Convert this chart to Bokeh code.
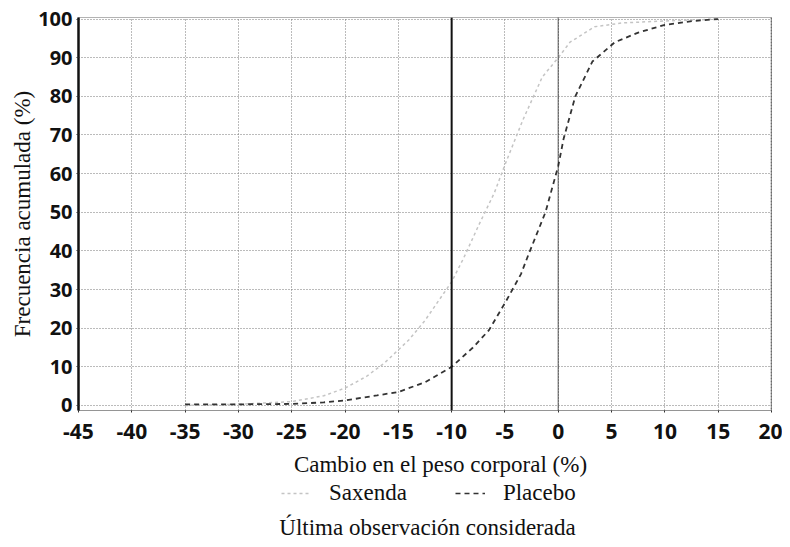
from bokeh.plotting import figure
from bokeh.layouts import column
from bokeh.models import (Range1d, FixedTicker, Span, Legend, LegendItem, Label, Title,
                          PrintfTickFormatter)
from bokeh.embed import file_html
from bokeh.resources import INLINE

# Data
saxenda_x = [-35, -30, -25, -22, -20, -18, -16.3, -14, -12.5, -10, -8.9, -7.4, -6, -4.9, -3.3, -1.5, 0, 1.1, 3.4, 6, 10, 15]
saxenda_y = [0, 0.3, 1, 2.5, 4.5, 7.5, 11, 17, 22, 32, 38, 47, 55, 63, 74, 85, 90, 94, 98, 99, 99.5, 100]

placebo_x = [-35, -30, -25, -22, -20, -17, -15, -12.5, -10, -8, -6.5, -4.9, -3.5, -2.8, -1.2, 0, 0.5, 1.6, 3.2, 5.3, 7.5, 10, 12.7, 15]
placebo_y = [0.3, 0.3, 0.4, 0.8, 1.3, 2.6, 3.5, 6, 10, 15, 19.5, 27, 34, 39, 50, 62, 69, 80, 89, 94, 96.5, 98.5, 99.5, 100]

x_ticks = [-45, -40, -35, -30, -25, -20, -15, -10, -5, 0, 5, 10, 15, 20]
y_ticks = [0, 10, 20, 30, 40, 50, 60, 70, 80, 90, 100]

x_title = "Cambio en el peso corporal (%)"
y_title = "Frecuencia acumulada (%)"
subtitle = "Última observación considerada"
series_names = ["Saxenda", "Placebo"]

SAX_COLOR, SAX_DASH = "#c4c4c4", "3 3"
PLA_COLOR, PLA_DASH = "#333333", "5 4"
SERIF = "Liberation Serif"

p = figure(width=782, height=449, output_backend="svg", toolbar_location=None,
           x_range=Range1d(-45, 20), y_range=Range1d(-1.3, 100.4),
           min_border_left=78, min_border_right=11, min_border_top=17, min_border_bottom=39)
p.background_fill_color = "white"
p.border_fill_color = "white"
p.outline_line_color = "#666666"
p.outline_line_dash = "1 1"
p.outline_line_width = 1

for ax in (p.xaxis[0], p.yaxis[0]):
    ax.major_label_text_font = "Open Sans"
    ax.major_label_text_font_style = "bold"
    ax.major_label_text_color = "#111111"
    ax.minor_tick_line_color = None
    ax.major_tick_in = 0
    ax.major_tick_out = 2
    ax.major_tick_line_color = "#333333"
    ax.formatter = PrintfTickFormatter(format="%d")

p.xaxis.major_label_text_font_size = "21px"
p.yaxis.major_label_text_font_size = "20px"
p.xaxis.ticker = FixedTicker(ticks=x_ticks)
p.yaxis.ticker = FixedTicker(ticks=y_ticks)
p.xaxis.axis_line_color = "#777777"
p.xaxis.axis_line_dash = "1 1"
p.yaxis.axis_line_color = "#111111"
p.yaxis.axis_line_width = 2.5
p.xaxis.major_label_standoff = 11
p.yaxis.major_label_standoff = 4

# y title, shifted a little below the frame's middle as in the reference
p.add_layout(Title(text=y_title, align="center", offset=17, standoff=2,
                   text_font=SERIF, text_font_size="23px", text_font_style="normal",
                   text_color="#111111"), "left")

p.xgrid.grid_line_color = "#777777"
p.xgrid.grid_line_dash = "1 2"
p.xgrid.grid_line_width = 1
p.ygrid.grid_line_color = "#777777"
p.ygrid.grid_line_dash = "1 2"
p.ygrid.grid_line_width = 1

p.add_layout(Span(location=-10, dimension="height", line_color="#111111", line_width=2))
p.add_layout(Span(location=0, dimension="height", line_color="#222222", line_width=1.5, line_dash="1 1"))
p.add_layout(Span(location=20, dimension="height", line_color="#222222", line_width=1.5, line_dash="2 1"))

p.line(saxenda_x, saxenda_y, line_color=SAX_COLOR, line_width=1.5, line_dash=SAX_DASH)
p.line(placebo_x, placebo_y, line_color=PLA_COLOR, line_width=1.8, line_dash=PLA_DASH)

# x title, legend and subtitle panel under the chart (frame aligned with the chart frame)
q = figure(width=782, height=98, output_backend="svg", toolbar_location=None,
           x_range=Range1d(0, 1), y_range=Range1d(0, 1), min_border=0)
q.axis.visible = False
q.grid.visible = False
q.outline_line_color = None
q.background_fill_color = "white"
q.border_fill_color = "white"

q.add_layout(Label(x=362, y=83, x_units="screen", y_units="screen", text=x_title,
                   text_align="center", text_baseline="middle",
                   text_font=SERIF, text_font_size="23px", text_color="#111111"))

# legend key renderers: their data lie outside the panel's range, only the keys show
k_sax = q.line([5, 6], [5, 6], line_color=SAX_COLOR, line_width=1.5, line_dash=SAX_DASH)
k_pla = q.line([5, 6], [5, 6], line_color=PLA_COLOR, line_width=1.5, line_dash=PLA_DASH)
legend = Legend(items=[LegendItem(label=series_names[0], renderers=[k_sax]),
                       LegendItem(label=series_names[1], renderers=[k_pla])],
                orientation="horizontal", location=(203, 41),
                label_text_font=SERIF, label_text_font_size="23px",
                label_text_color="#111111", glyph_width=30, label_standoff=18, spacing=48,
                border_line_color=None, background_fill_alpha=0, padding=2, margin=0)
q.add_layout(legend, "center")

q.add_layout(Label(x=349, y=20, x_units="screen", y_units="screen", text=subtitle,
                   text_align="center", text_baseline="middle",
                   text_font=SERIF, text_font_size="23px", text_color="#111111"))

open("out.html", "w").write(file_html(column(p, q, spacing=0), INLINE))
